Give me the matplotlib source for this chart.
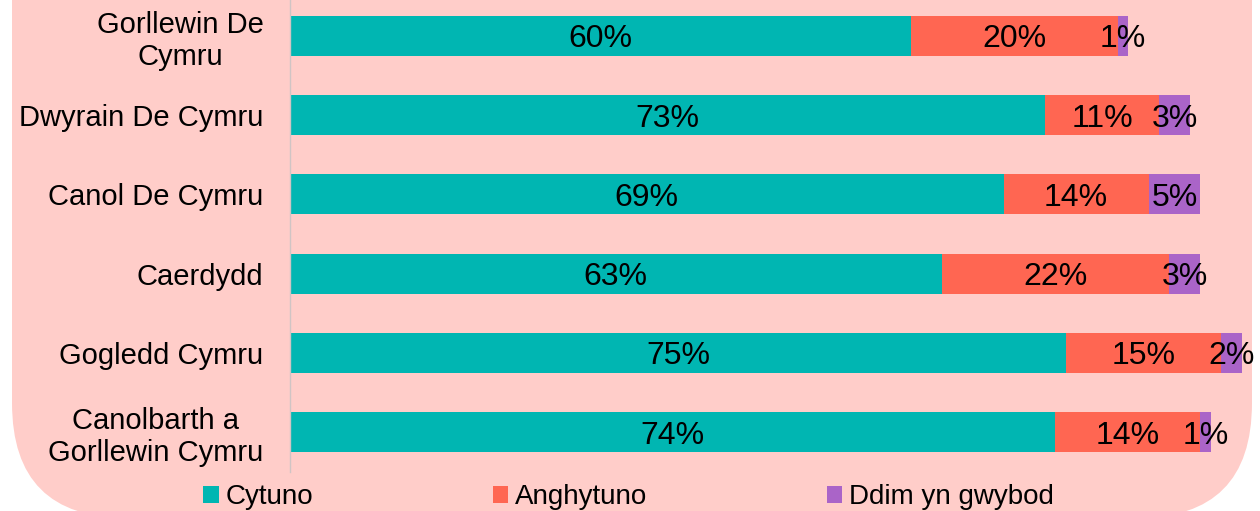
import matplotlib
matplotlib.use("Agg")
import matplotlib.pyplot as plt
from matplotlib.patches import FancyBboxPatch

plt.rcParams['font.family'] = ['Liberation Sans', 'DejaVu Sans']

regions = ["Gorllewin De\nCymru", "Dwyrain De Cymru", "Canol De Cymru",
           "Caerdydd", "Gogledd Cymru", "Canolbarth a\nGorllewin Cymru"]
cytuno = [60, 73, 69, 63, 75, 74]
anghytuno = [20, 11, 14, 22, 15, 14]
ddim = [1, 3, 5, 3, 2, 1]
series_names = ["Cytuno", "Anghytuno", "Ddim yn gwybod"]
colors = ["#00B6B2", "#FF6652", "#AA64C8"]

fig = plt.figure(figsize=(12.6, 5.11), dpi=100, facecolor="white")

# pink rounded panel behind everything (pixel coords)
bg = FancyBboxPatch((12, -7), 1240, 640, boxstyle="round,pad=0,rounding_size=115",
                    transform=None, facecolor="#FFCDC9", edgecolor="none", zorder=-10)
fig.patches.append(bg)

ax = fig.add_axes([290 / 1260, 39 / 511, 962 / 1260, 472 / 511])
ax.set_facecolor("none")
ax.set_zorder(1)

y = list(range(len(regions)))
left = [0] * len(regions)
for vals, name, col in zip([cytuno, anghytuno, ddim], series_names, colors):
    bars = ax.barh(y, vals, left=left, height=0.505, color=col, label=name,
                   edgecolor="none")
    txts = ax.bar_label(bars, labels=["%d%%" % v for v in vals], label_type="center",
                        fontsize=23, color="black")
    for t in txts:
        t.set_va("center_baseline")
    left = [l + v for l, v in zip(left, vals)]

ax.set_xlim(0, 93)
ax.set_ylim(5.505, -0.4545)
ax.set_yticks(y)
ax.set_yticklabels(regions, fontsize=21, multialignment="center")
ax.tick_params(axis="y", length=0, pad=19)
ax.set_xticks([])
for s in ["top", "right", "bottom"]:
    ax.spines[s].set_visible(False)
ax.spines["left"].set_color("#D0C4C4")
ax.spines["left"].set_linewidth(1)

fig.legend(loc="center", bbox_to_anchor=(0.499, 0.027), ncol=3, frameon=False,
           fontsize=20, handlelength=0.55, handleheight=0.55, handletextpad=0.25,
           columnspacing=6.47, borderpad=0)

fig.savefig("out.png", dpi=100)
